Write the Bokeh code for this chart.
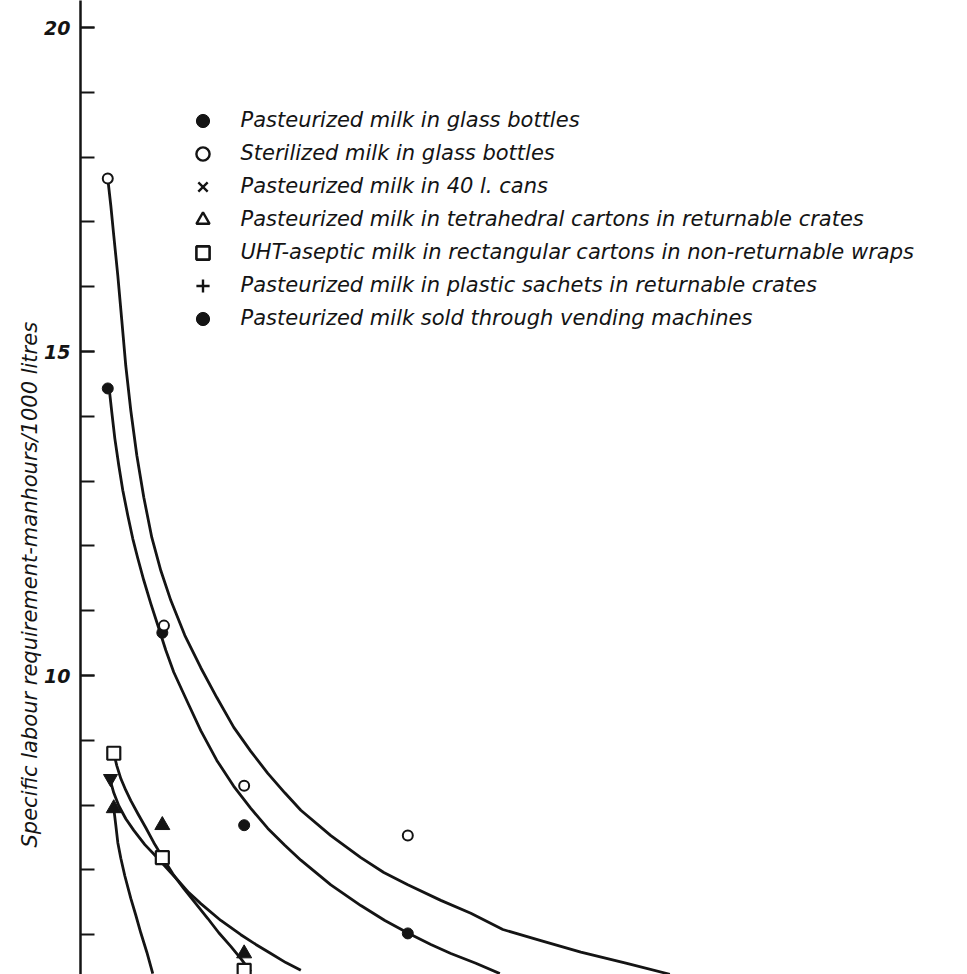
import math
from bokeh.plotting import figure
from bokeh.models import Range1d, SingleIntervalTicker, Title, Legend, LegendItem, ColumnDataSource
from bokeh.embed import file_html
from bokeh.resources import INLINE

# ---------------- data ----------------
legend_labels = [
    "Pasteurized milk in glass bottles",
    "Sterilized milk in glass bottles",
    "Pasteurized milk in 40 l. cans",
    "Pasteurized milk in tetrahedral cartons in returnable crates",
    "UHT-aseptic milk in rectangular cartons in non-returnable wraps",
    "Pasteurized milk in plastic sachets in returnable crates",
    "Pasteurized milk sold through vending machines",
]
y_tick_values = [10, 15, 20]
y_title = "Specific labour requirement-manhours/1000 litres"

# plotted points (x = plant size, y = manhours / 1000 litres)
glass_past_x = [5, 15, 30, 60]
glass_past_y = [14.43, 10.66, 7.69, 6.02]
glass_ster_x = [5, 15.3, 30, 60]
glass_ster_y = [17.67, 10.77, 8.30, 7.53]
tetra_x = [6.1, 15, 30]
tetra_y = [7.95, 7.69, 5.71]
uht_x = [6.1, 15, 30]
uht_y = [8.80, 7.19, 5.45]
vending_x = [5.5]
vending_y = [8.41]

# fitted curves
curve_ster_x = [5.00, 5.56, 6.10, 6.84, 7.57, 8.30, 9.22, 10.32, 11.60, 13.07,
                14.72, 16.55, 19.12, 22.05, 24.99, 28.10, 31.22, 34.34, 37.45, 40.39,
                45.89, 51.39, 55.60, 60.00, 66.05, 71.55, 77.42, 84.39, 91.72, 99.97, 108.04]
curve_ster_y = [17.67, 17.25, 16.79, 16.17, 15.48, 14.78, 14.09, 13.40, 12.75, 12.13,
                11.62, 11.16, 10.62, 10.12, 9.66, 9.20, 8.83, 8.49, 8.19, 7.92,
                7.53, 7.19, 6.96, 6.77, 6.53, 6.33, 6.08, 5.91, 5.73, 5.56, 5.39]
curve_past_x = [5.19, 5.74, 6.29, 7.02, 7.75, 8.67, 9.59, 10.50, 11.60, 12.89,
                14.35, 15.64, 17.10, 19.67, 22.05, 24.99, 28.10, 31.22, 34.34, 37.45,
                40.39, 45.89, 51.39, 55.79, 60.19, 64.22, 67.89, 72.47, 76.87]
curve_past_y = [14.48, 14.06, 13.66, 13.24, 12.86, 12.47, 12.11, 11.81, 11.47, 11.11,
                10.73, 10.39, 10.05, 9.58, 9.15, 8.69, 8.29, 7.95, 7.64, 7.38,
                7.15, 6.77, 6.45, 6.22, 6.02, 5.85, 5.71, 5.56, 5.40]
curve_uht_x = [6.10, 6.65, 7.39, 8.30, 9.22, 10.50, 11.97, 13.44, 15.09, 16.92,
               18.94, 21.14, 23.34, 25.35, 27.55, 29.39, 31.22]
curve_uht_y = [8.80, 8.61, 8.41, 8.23, 8.07, 7.87, 7.65, 7.42, 7.19, 6.94,
               6.71, 6.48, 6.25, 6.03, 5.82, 5.63, 5.43]
curve_tetra_x = [5.56, 6.10, 7.02, 8.30, 9.77, 11.79, 14.17, 16.00, 17.84, 19.85,
                 22.05, 25.72, 29.39, 32.14, 34.89, 37.64, 40.39]
curve_tetra_y = [8.35, 8.19, 7.99, 7.79, 7.61, 7.39, 7.18, 7.01, 6.84, 6.65,
                 6.48, 6.22, 6.00, 5.85, 5.71, 5.57, 5.45]
curve_cans_x = [6.10, 6.47, 6.84, 7.39, 8.12, 9.22, 10.14, 11.05, 12.16, 13.25]
curve_cans_y = [7.95, 7.69, 7.42, 7.18, 6.91, 6.56, 6.30, 6.03, 5.73, 5.40]

# ---------------- styling ----------------
INK = "#141414"
FONT = "DejaVu Sans"

p = figure(
    width=967, height=974,
    x_range=Range1d(0, 162.6), y_range=Range1d(5.386, 20.417),
    x_axis_location=None,
    output_backend="svg", toolbar_location=None,
    min_border_left=80, min_border_right=0, min_border_top=0, min_border_bottom=0,
)
p.outline_line_color = None
p.xgrid.visible = False
p.ygrid.visible = False
p.background_fill_color = "white"
p.border_fill_color = "white"

yax = p.yaxis[0]
yax.ticker = SingleIntervalTicker(interval=5, num_minor_ticks=5)
yax.major_label_overrides = {v: str(v) for v in y_tick_values}
yax.axis_line_color = INK
yax.axis_line_width = 2.5
yax.major_tick_line_color = INK
yax.major_tick_line_width = 2
yax.minor_tick_line_color = INK
yax.minor_tick_line_width = 2
yax.major_tick_in = 14
yax.major_tick_out = 0
yax.minor_tick_in = 14
yax.minor_tick_out = 0
yax.major_label_standoff = 10
yax.major_label_text_font = FONT
yax.major_label_text_font_style = "bold italic"
yax.major_label_text_font_size = "19px"
yax.major_label_text_color = INK

# y-axis title, placed as a side title so it can sit lower than centre
p.add_layout(Title(
    text=y_title, align="left", offset=127, standoff=0,
    text_font=FONT, text_font_style="italic", text_font_size="21px",
    text_color=INK,
), "left")

# curves
for cx, cy in [(curve_ster_x, curve_ster_y), (curve_past_x, curve_past_y),
               (curve_uht_x, curve_uht_y), (curve_tetra_x, curve_tetra_y),
               (curve_cans_x, curve_cans_y)]:
    p.line(cx, cy, line_color=INK, line_width=2.8, line_join="round")

# points
p.scatter(glass_past_x, glass_past_y, marker="circle", size=11, fill_color=INK, line_color=INK)
p.scatter(glass_ster_x, glass_ster_y, marker="circle", size=10, fill_color="white", line_color=INK, line_width=2)
p.scatter(tetra_x, tetra_y, marker="triangle", size=15, fill_color=INK, line_color=INK)
p.scatter(uht_x, uht_y, marker="square", size=13, fill_color="white", line_color=INK, line_width=2.2)
p.scatter(vending_x, vending_y, marker="inverted_triangle", size=14, fill_color=INK, line_color=INK)

# legend (symbols as drawn in the key)
key_styles = [
    dict(marker="circle", size=11, fill_color=INK, line_color=INK, line_width=1),
    dict(marker="circle", size=10, fill_color="white", line_color=INK, line_width=2.4),
    dict(marker="x", size=14, fill_color=None, line_color=INK, line_width=2.4),
    dict(marker="triangle", size=14, fill_color="white", line_color=INK, line_width=2.4),
    dict(marker="square", size=12, fill_color="white", line_color=INK, line_width=2.6),
    dict(marker="cross", size=14, fill_color=None, line_color=INK, line_width=2.4),
    dict(marker="circle", size=11, fill_color=INK, line_color=INK, line_width=1),
]
items = []
for lab, st in zip(legend_labels, key_styles):
    src = ColumnDataSource(dict(x=[float("nan")], y=[float("nan")]))
    r = p.scatter(x="x", y="y", source=src, **st)
    items.append(LegendItem(label=lab, renderers=[r]))

legend = Legend(
    items=items, location=(105.5, 639.5),
    glyph_width=33, glyph_height=33, label_height=33, spacing=0,
    label_standoff=22, padding=0, margin=0,
    border_line_color=None, background_fill_alpha=0,
    label_text_font=FONT, label_text_font_style="italic",
    label_text_font_size="21px", label_text_color=INK,
)
p.add_layout(legend)

open("out.html", "w").write(file_html(p, INLINE))
